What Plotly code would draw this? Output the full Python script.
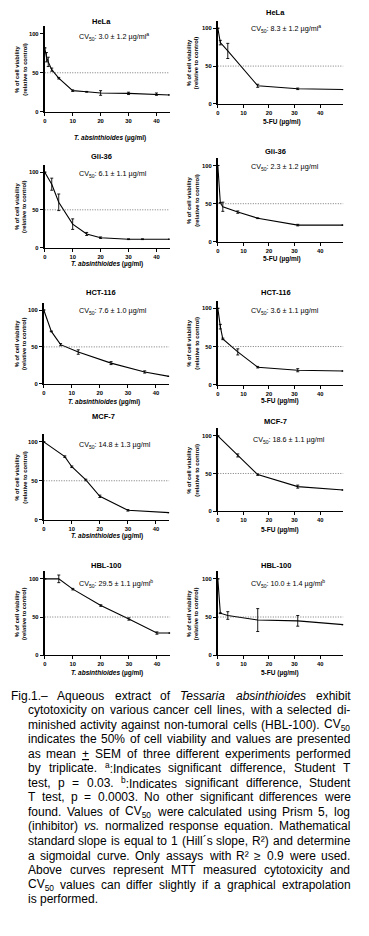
import plotly.graph_objects as go

W, H = 369, 936
FONT = "Liberation Sans, Arial, sans-serif"

# ---------------- data ----------------
cell_lines = ["HeLa", "Gli-36", "HCT-116", "MCF-7", "HBL-100"]
cv50_ta = ["3.0 ± 1.2", "6.1 ± 1.1", "7.6 ± 1.0", "14.8 ± 1.3", "29.5 ± 1.1"]
cv50_ta_sig = ["a", "", "", "", "b"]
cv50_fu = ["8.3 ± 1.2", "2.3 ± 1.2", "3.6 ± 1.1", "18.6 ± 1.1", "10.0 ± 1.4"]
cv50_fu_sig = ["a", "", "", "", "b"]
x_ticks = [0, 10, 20, 30, 40]
y_ticks = [0, 50, 100]
ta_label = "<i>T. absinthioides</i> (µg/ml)"
fu_label = "5-FU (µg/ml)"
y_label = "% of cell viability<br>(relative to control)"

# T. absinthioides
hela_ta_x = [0, 0.6, 1.25, 2.5, 5, 10, 15, 20, 30, 40, 44.7]
hela_ta_y = [82, 70, 64, 54, 43, 27, 25.5, 24, 23.5, 22.5, 21.5]
hela_ta_err = [0, 6, 6, 2, 1, 1, 0.5, 3, 1.5, 1.5, 0]
gli_ta_x = [0, 2.5, 5, 10, 15, 20, 30, 35, 44.7]
gli_ta_y = [100, 84, 60, 31, 18, 13, 11, 11, 11]
gli_ta_err = [0, 8, 11, 7, 2, 1, 0.5, 0.5, 0]
hct_ta_x = [0, 2.7, 6, 12.3, 24, 36, 44.7]
hct_ta_y = [100, 71, 53, 43, 28, 16, 10]
hct_ta_err = [0, 0.5, 1.5, 3, 2, 1.5, 0]
mcf_ta_x = [0, 7.5, 10, 15, 20, 30, 44.7]
mcf_ta_y = [100, 81, 68, 51, 30, 12, 9]
mcf_ta_err = [0, 1, 1, 1, 1.5, 1, 0]
hbl_ta_x = [0, 5, 10, 20, 30, 40, 44.7]
hbl_ta_y = [100, 100, 86.5, 65, 47.4, 29, 29]
hbl_ta_err = [0, 5, 1, 1, 1.5, 1.5, 0]

# 5-FU
hela_fu_x = [0, 0.98, 3.9, 15.6, 31.25, 49]
hela_fu_y = [100, 81, 70, 24, 20, 19]
hela_fu_err = [0, 3, 10, 2, 1, 0]
gli_fu_x = [0, 0.98, 1.95, 7.8, 15.6, 31.25, 49]
gli_fu_y = [100, 51, 46, 39, 31, 22, 22]
gli_fu_err = [0, 0.5, 6, 1.5, 0.5, 1, 0]
hct_fu_x = [0, 0.98, 1.95, 7.8, 15.6, 31.25, 49]
hct_fu_y = [100, 76, 60, 43, 23, 19, 18]
hct_fu_err = [0, 3, 1, 4, 1, 2, 0]
mcf_fu_x = [0, 7.8, 15.6, 31.25, 49]
mcf_fu_y = [100, 74, 48.5, 32.5, 28]
mcf_fu_err = [0, 2, 1, 2, 0]
hbl_fu_x = [0, 0.98, 3.9, 15.6, 31.25, 49]
hbl_fu_y = [100, 55, 52, 46, 45, 40]
hbl_fu_err = [0, 0.5, 5, 15, 7, 0]

caption_lines = [
    "Fig.1.– Aqueous extract of <i>Tessaria</i> <i>absinthioides</i> exhibit",
    "cytotoxicity on various cancer cell lines, with a selected di-",
    "minished activity against non-tumoral cells (HBL-100). CV<sub>50</sub>",
    "indicates the 50% of cell viability and values are presented",
    "as mean <u>+</u> SEM of three different experiments performed",
    "by triplicate. <sup>a</sup>:Indicates significant difference, Student T",
    "test, p = 0.03. <sup>b</sup>:Indicates significant difference, Student",
    "T test, p = 0.0003. No other significant differences were",
    "found. Values of CV<sub>50</sub> were calculated using Prism 5, log",
    "(inhibitor) <i>vs.</i> normalized response equation. Mathematical",
    "standard slope is equal to 1 (Hill´s slope, R²) and determine",
    "a sigmoidal curve. Only assays with R² ≥ 0.9 were used.",
    "Above curves represent MTT measured cytotoxicity and",
    "CV<sub>50</sub> values can differ slightly if a graphical extrapolation",
    "is performed.",
]

# ---------------- layout geometry (pixels) ----------------
series = [
    (hela_ta_x, hela_ta_y, hela_ta_err), (hela_fu_x, hela_fu_y, hela_fu_err),
    (gli_ta_x, gli_ta_y, gli_ta_err), (gli_fu_x, gli_fu_y, gli_fu_err),
    (hct_ta_x, hct_ta_y, hct_ta_err), (hct_fu_x, hct_fu_y, hct_fu_err),
    (mcf_ta_x, mcf_ta_y, mcf_ta_err), (mcf_fu_x, mcf_fu_y, mcf_fu_err),
    (hbl_ta_x, hbl_ta_y, hbl_ta_err), (hbl_fu_x, hbl_fu_y, hbl_fu_err),
]
# x0, x1, y(0), y(100)
geo = [
    (43, 168.5, 112, 34), (217, 343, 104.3, 28.3),
    (43, 168.5, 248.3, 172.7), (217, 343, 242.7, 166),
    (42, 168, 385, 311), (217, 343, 386, 309.3),
    (42, 168, 521.3, 443.3), (217, 343, 512.7, 437.3),
    (43, 169, 657.3, 580.7), (217, 343, 657.3, 580.7),
]
title_pos = [(100, 22), (275, 13), (100, 157), (275, 152), (100, 293),
             (275, 293), (102, 418), (275, 423), (105, 567), (275, 567)]
cv_pos = [(75, 37), (248, 29), (75, 175), (248, 168), (75, 312),
          (248, 312), (75, 446), (250, 441), (75, 585), (248, 585)]
xt_pos = [(109, 138), (282, 122), (106, 265), (282, 260), (103, 403),
          (280, 402), (106, 538), (280, 532), (106, 675), (280, 675)]
YMAX = 110


def px(x):
    return x / W


def py(y):
    return 1 - y / H


fig = go.Figure()
annotations = []
shapes = []
lay = {}

for i in range(10):
    n = i + 1
    sfx = "" if n == 1 else str(n)
    xs, ys, es = series[i]
    x0, x1, y0, y100 = geo[i]
    ytop = y100 - (y0 - y100) * (YMAX - 100) / 100
    left = (i % 2 == 0)
    xmax = 44.7 if left else 49
    fig.add_trace(go.Scatter(
        x=xs, y=ys, mode="lines", xaxis="x" + sfx, yaxis="y" + sfx,
        line=dict(color="black", width=1.1),
        error_y=dict(type="data", array=es, visible=True, color="black",
                     thickness=0.9, width=1.5),
        hoverinfo="skip", showlegend=False))
    lay["xaxis" + sfx] = dict(
        domain=[px(x0), px(x1)], range=[0, xmax], anchor="y" + sfx,
        showline=True, linecolor="black", linewidth=1.3, ticks="outside",
        ticklen=3, tickwidth=1, tickcolor="black", tickvals=x_ticks,
        tickfont=dict(size=5.8, family=FONT, color="black", weight="bold"),
        showgrid=False, zeroline=False, fixedrange=True)
    lay["yaxis" + sfx] = dict(
        domain=[py(y0), py(ytop)], range=[0, YMAX], anchor="x" + sfx,
        showline=True, linecolor="black", linewidth=2, ticks="outside",
        ticklen=3, tickwidth=1, tickcolor="black", tickvals=y_ticks,
        tickfont=dict(size=5.8, family=FONT, color="black", weight="bold"),
        showgrid=False, zeroline=False, fixedrange=True)
    shapes.append(dict(type="line", xref="x" + sfx + " domain", x0=0, x1=1,
                       yref="y" + sfx, y0=50, y1=50,
                       line=dict(color="#555", width=0.8, dash="1px,1.5px")))
    row = i // 2
    # panel title
    tx, ty = title_pos[i]
    annotations.append(dict(x=px(tx), y=py(ty), xref="paper", yref="paper",
                            xanchor="center", yanchor="middle",
                            text="<b>%s</b>" % cell_lines[row], showarrow=False,
                            font=dict(size=7.5, family=FONT, color="black")))
    # CV50 text
    val = cv50_ta[row] if left else cv50_fu[row]
    sig = cv50_ta_sig[row] if left else cv50_fu_sig[row]
    txt = "CV<sub>50</sub>: %s µg/ml" % val + ("<sup>%s</sup>" % sig if sig else "")
    cx, cy = cv_pos[i]
    annotations.append(dict(x=px(cx), y=py(cy), xref="paper", yref="paper",
                            xanchor="left", yanchor="middle", text=txt,
                            showarrow=False,
                            font=dict(size=7.2, family=FONT, color="black")))
    # x title
    xx, xy = xt_pos[i]
    annotations.append(dict(x=px(xx), y=py(xy), xref="paper", yref="paper",
                            xanchor="center", yanchor="middle",
                            text="<b>%s</b>" % (ta_label if left else fu_label),
                            showarrow=False,
                            font=dict(size=6.5, family=FONT, color="black")))
    # y title
    yx = 19 if left else 192
    annotations.append(dict(x=px(yx), y=py((y0 + ytop) / 2), xref="paper",
                            yref="paper", xanchor="center", yanchor="middle",
                            text="<b>%s</b>" % y_label,
                            textangle=-90, showarrow=False,
                            font=dict(size=5.8, family=FONT, color="black")))

# ---------------- justified caption ----------------
HW = {' ': 278, '%': 889, '(': 333, ')': 333, '+': 584, ',': 278, '-': 333,
      '.': 278, '/': 278, ':': 278, '=': 584, '–': 556, '±': 584, '≥': 549,
      '´': 333, '²': 333, 'µ': 556,
      'A': 667, 'B': 667, 'C': 722, 'D': 722, 'E': 667, 'F': 611, 'G': 778,
      'H': 722, 'I': 278, 'J': 500, 'K': 667, 'L': 556, 'M': 833, 'N': 722,
      'O': 778, 'P': 667, 'Q': 778, 'R': 722, 'S': 667, 'T': 611, 'U': 722,
      'V': 667, 'W': 944, 'X': 667, 'Y': 667, 'Z': 611,
      'a': 556, 'b': 556, 'c': 500, 'd': 556, 'e': 556, 'f': 278, 'g': 556,
      'h': 556, 'i': 222, 'j': 222, 'k': 500, 'l': 222, 'm': 833, 'n': 556,
      'o': 556, 'p': 556, 'q': 556, 'r': 333, 's': 500, 't': 278, 'u': 556,
      'v': 500, 'w': 722, 'x': 500, 'y': 500, 'z': 500}


def text_width(word, size):
    w = 0.0
    small = False
    k = 0
    while k < len(word):
        if word[k] == "<":
            tag = word[k:word.index(">", k) + 1]
            if tag in ("<sub>", "<sup>"):
                small = True
            elif tag in ("</sub>", "</sup>"):
                small = False
            k += len(tag)
            continue
        w += HW.get(word[k], 556) * (0.7 if small else 1.0)
        k += 1
    return w * size / 1000.0


CAP_SIZE = 12
RIGHT = 348
for li, line in enumerate(caption_lines):
    yline = 698 + 14.57 * li
    xl = 7 if li == 0 else 24
    words = line.split(" ")
    widths = [text_width(w, CAP_SIZE) for w in words]
    if li == len(caption_lines) - 1 or len(words) == 1:
        gap = 0.278 * CAP_SIZE
    else:
        gap = (RIGHT - xl - sum(widths)) / (len(words) - 1)
    xc = xl
    for w, wd in zip(words, widths):
        annotations.append(dict(x=px(xc), y=py(yline), xref="paper", yref="paper",
                                xanchor="left", yanchor="middle", text=w,
                                showarrow=False,
                                font=dict(size=CAP_SIZE, family=FONT, color="black")))
        xc += wd + gap

fig.update_layout(**lay)
fig.update_layout(width=W, height=H, margin=dict(l=0, r=0, t=0, b=0),
                  paper_bgcolor="white", plot_bgcolor="white",
                  showlegend=False, annotations=annotations, shapes=shapes)

fig.write_html("out.html", config={"displayModeBar": False},
               post_script="document.body.style.margin='0';document.body.style.overflow='hidden';")
